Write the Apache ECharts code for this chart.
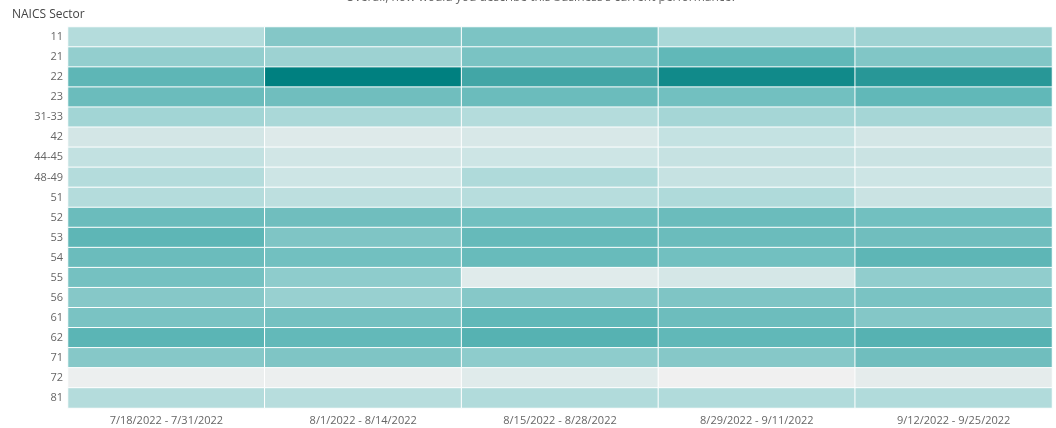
<!DOCTYPE html>
<html>
<head>
<meta charset="utf-8">
<script src="https://cdn.jsdelivr.net/npm/echarts@6/dist/echarts.min.js"></script>
<style>
  html, body { margin: 0; padding: 0; background: #fff; }
  #chart { width: 1056px; height: 428px; }
</style>
</head>
<body>
<div id="chart"></div>
<script>
  // periods (columns)
  var periods = ['7/18/2022 - 7/31/2022', '8/1/2022 - 8/14/2022', '8/15/2022 - 8/28/2022',
    '8/29/2022 - 9/11/2022', '9/12/2022 - 9/25/2022'];
  // NAICS sectors (rows)
  var sectors = ['11', '21', '22', '23', '31-33', '42', '44-45', '48-49', '51', '52',
    '53', '54', '55', '56', '61', '62', '71', '72', '81'];

  // one array per period, values in sector order (shade intensity, estimated)
  var p1 = [33, 46, 67, 62, 40, 16, 25, 33, 33, 62, 67, 62, 58, 51, 56, 68, 51, 2, 33];
  var p2 = [52, 42, 100, 60, 37, 10, 17, 19, 28, 60, 54, 59, 48, 44, 58, 65, 54, 2, 31];
  var p3 = [55, 56, 77, 62, 33, 13, 19, 35, 31, 59, 64, 63, 9, 51, 66, 70, 48, 9, 34];
  var p4 = [37, 66, 94, 59, 39, 24, 23, 23, 35, 62, 62, 59, 15, 54, 61, 66, 51, 0, 34];
  var p5 = [41, 53, 86, 66, 39, 16, 21, 19, 21, 59, 60, 67, 47, 56, 52, 70, 60, 6, 34];

  var cols = [p1, p2, p3, p4, p5];
  var data = [];
  for (var i = 0; i < cols.length; i++) {
    for (var j = 0; j < sectors.length; j++) {
      data.push([i, j, cols[i][j]]);
    }
  }

  var chart = echarts.init(document.getElementById('chart'));
  chart.setOption({
    animation: false,
    title: [{
      text: "Overall, how would you describe this business's current performance?",
      left: 536,
      textAlign: 'center',
      top: -13,
      textStyle: { fontFamily: 'Open Sans', fontSize: 12, fontWeight: 'normal', color: '#666' }
    }, {
      text: 'NAICS Sector',
      left: 7,
      top: 4,
      textStyle: { fontFamily: 'Open Sans', fontSize: 12, fontWeight: 'normal', color: '#444' }
    }],
    grid: { left: 68, right: 4, top: 27, bottom: 20 },
    xAxis: {
      type: 'category',
      data: periods,
      axisLine: { show: false },
      axisTick: { show: false },
      splitLine: { show: false },
      axisLabel: { fontFamily: 'Open Sans', fontSize: 11, color: '#666', margin: 7 }
    },
    yAxis: {
      type: 'category',
      data: sectors,
      inverse: true,
      axisLine: { show: false },
      axisTick: { show: false },
      splitLine: { show: false },
      axisLabel: { fontFamily: 'Open Sans', fontSize: 11, color: '#666', margin: 5 }
    },
    visualMap: {
      show: false,
      min: 0,
      max: 100,
      inRange: { color: ['#f0f0f0', '#b3dcdc', '#5fb7b7', '#008080'] }
    },
    series: [{
      type: 'heatmap',
      data: data,
      itemStyle: { borderColor: '#fff', borderWidth: 1 },
      emphasis: { disabled: true }
    }]
  });
</script>
</body>
</html>
